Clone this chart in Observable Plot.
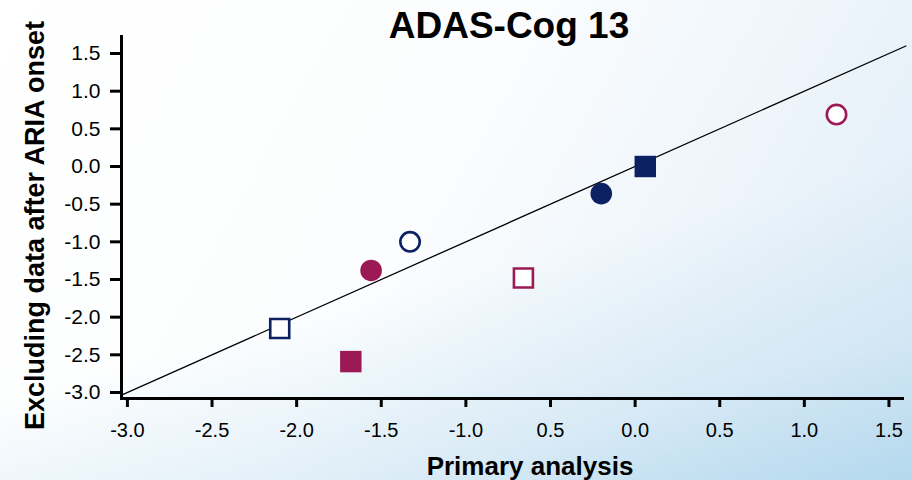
<!DOCTYPE html>
<html>
<head>
<meta charset="utf-8">
<script src="https://cdn.jsdelivr.net/npm/d3@7"></script>
<script src="https://cdn.jsdelivr.net/npm/@observablehq/plot@0.6"></script>
<style>
  html, body { margin: 0; padding: 0; }
  body {
    width: 912px; height: 480px; overflow: hidden;
    font-family: "Liberation Sans", Arial, sans-serif;
    background:
      linear-gradient(165deg, rgba(255,255,255,0) 55%, rgba(200,226,242,0.55) 80%, rgba(170,212,236,0.8) 100%),
      linear-gradient(120deg, #ffffff 0%, #fbfdfe 45%, #eef5fb 70%, #dcebf6 100%);
  }
  #wrap { position: relative; width: 912px; height: 480px; }
  #title {
    position: absolute; left: 0; width: 1018px; top: 5px;
    text-align: center; font-weight: bold; font-size: 37px; color: #000;
  }
  #chart { position: absolute; left: 0; top: 0; }
</style>
</head>
<body>
<div id="wrap">
  <div id="chart"></div>
  <div id="title">ADAS-Cog 13</div>
</div>
<script>
// valores
const primaryAnalysis = [-2.10, -1.68, -1.56, -1.33, -0.66, -0.20, 0.06, 1.19]
const excludingAria   = [-2.15, -2.59, -1.38, -1.00, -1.48, -0.36, 0.00, 0.69]
const pointGroup = ['grupo1', 'grupo2', 'grupo2', 'grupo1', 'grupo2', 'grupo1', 'grupo1', 'grupo2']
const pointShape = ['square', 'square', 'circle', 'circle', 'square', 'circle', 'square', 'circle']
const pointFill  = ['open', 'filled', 'filled', 'open', 'open', 'filled', 'filled', 'open']

// ticks (las etiquetas del eje x tal cual aparecen)
const xTicks = [-3.0, -2.5, -2.0, -1.5, -1.0, -0.5, 0.0, 0.5, 1.0, 1.5]
const xTickLabels = ['-3.0', '-2.5', '-2.0', '-1.5', '-1.0', '0.5', '0.0', '0.5', '1.0', '1.5']
const yTicks = [1.5, 1.0, 0.5, 0.0, -0.5, -1.0, -1.5, -2.0, -2.5, -3.0]

// línea de identidad
const identity = [-3.035, 1.6]

const data = primaryAnalysis.map((x, i) => ({
  x, y: excludingAria[i], group: pointGroup[i], shape: pointShape[i], fill: pointFill[i]
}))
const pick = (shape, fill) => data.filter(d => d.shape === shape && d.fill === fill)

const font = 'Liberation Sans, Arial, sans-serif'

let chart = Plot.plot({
  width: 912,
  height: 480,
  marginLeft: 121,
  marginRight: 10,
  marginTop: 36,
  marginBottom: 82,
  style: { background: 'transparent', fontFamily: font, color: '#000', overflow: 'visible' },
  x: { domain: [-3.035, 1.58] },
  y: { domain: [-3.08, 1.726] },
  color: { type: 'ordinal', domain: ['grupo1', 'grupo2'], range: ['#0b2161', '#9b1a56'] },
  marks: [
    Plot.line(identity, { x: d => d, y: d => Math.min(d, 1.62), stroke: '#000', strokeWidth: 1.3 }),
    Plot.frame({ anchor: 'bottom', stroke: '#000', strokeWidth: 3 }),
    Plot.frame({ anchor: 'left', stroke: '#000', strokeWidth: 3 }),
    Plot.axisX({
      ticks: xTicks, tickSize: 9, tickPadding: 15, strokeWidth: 3,
      tickFormat: (d, i) => xTickLabels[i], fontSize: 20, label: null
    }),
    Plot.axisY({
      ticks: yTicks, tickSize: 11, tickPadding: 10, strokeWidth: 3,
      tickFormat: d => d.toFixed(1), fontSize: 21, label: null
    }),
    Plot.dot(pick('square', 'filled'), { x: 'x', y: 'y', symbol: 'square', r: 12.1, fill: 'group' }),
    Plot.dot(pick('circle', 'filled'), { x: 'x', y: 'y', symbol: 'circle', r: 10.8, fill: 'group' }),
    Plot.dot(pick('square', 'open'), { x: 'x', y: 'y', symbol: 'square', r: 10.7, fill: 'white', stroke: 'group', strokeWidth: 2.6 }),
    Plot.dot(pick('circle', 'open'), { x: 'x', y: 'y', symbol: 'circle', r: 9.7, fill: 'white', stroke: 'group', strokeWidth: 2.6 }),
    Plot.text(['Primary analysis'], {
      frameAnchor: 'bottom', dx: 18, dy: 76, text: d => d,
      fontSize: 26, fontWeight: 'bold', fill: '#000', lineAnchor: 'bottom'
    }),
    Plot.text(['Excluding data after ARIA onset'], {
      frameAnchor: 'left', dx: -86, dy: 8, rotate: -90, text: d => d,
      fontSize: 27, fontWeight: 'bold', fill: '#000', textAnchor: 'middle'
    })
  ]
})

d3.select('#chart').append(() => chart)
</script>
</body>
</html>
